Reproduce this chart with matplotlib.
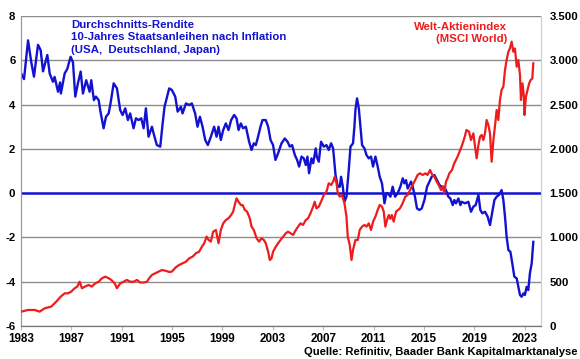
import matplotlib
matplotlib.use("Agg")
import matplotlib.pyplot as plt

plt.rcParams['font.family'] = ['Liberation Sans', 'DejaVu Sans']

# Real yield (left axis, %), average 10y gov bonds after inflation
yield_years = [1983.02, 1983.24, 1983.56, 1983.82, 1984.03, 1984.35, 1984.56, 1984.75, 1985.09, 1985.28,
               1985.54, 1985.67, 1985.94, 1986.10, 1986.17, 1986.47, 1986.67, 1986.94, 1987.13, 1987.31,
               1987.52, 1987.74, 1987.92, 1988.18, 1988.45, 1988.58, 1988.79, 1988.95, 1989.17, 1989.29,
               1989.56, 1989.75, 1989.96, 1990.09, 1990.36, 1990.62, 1990.88, 1991.07, 1991.28, 1991.49,
               1991.67, 1991.94, 1992.13, 1992.34, 1992.55, 1992.74, 1992.92, 1993.13, 1993.40, 1993.53,
               1993.79, 1994.06, 1994.25, 1994.40, 1994.67, 1994.77, 1994.98, 1995.25, 1995.44, 1995.70,
               1995.83, 1996.10, 1996.36, 1996.57, 1996.83, 1997.02, 1997.21, 1997.42, 1997.63, 1997.84,
               1998.08, 1998.34, 1998.53, 1998.69, 1998.87, 1999.06, 1999.27, 1999.48, 1999.69, 1999.93,
               2000.12, 2000.28, 2000.46, 2000.64, 2000.86, 2001.12, 2001.31, 2001.49, 2001.65, 2001.83,
               2002.02, 2002.18, 2002.44, 2002.63, 2002.82, 2003.02, 2003.21, 2003.42, 2003.69, 2003.95,
               2004.17, 2004.35, 2004.53, 2004.75, 2004.93, 2005.09, 2005.28, 2005.46, 2005.62, 2005.75,
               2005.88, 2006.07, 2006.21, 2006.41, 2006.49, 2006.65, 2006.83, 2007.05, 2007.26, 2007.44,
               2007.63, 2007.79, 2007.98, 2008.16, 2008.32, 2008.42, 2008.56, 2008.69, 2008.85, 2009.03,
               2009.17, 2009.37, 2009.48, 2009.56, 2009.69, 2009.83, 2009.96, 2010.09, 2010.28, 2010.44,
               2010.62, 2010.80, 2010.96, 2011.15, 2011.33, 2011.49, 2011.67, 2011.87, 2012.02, 2012.13,
               2012.34, 2012.52, 2012.71, 2012.92, 2013.13, 2013.32, 2013.45, 2013.58, 2013.71, 2013.85,
               2013.98, 2014.11, 2014.29, 2014.45, 2014.64, 2014.83, 2015.04, 2015.25, 2015.44, 2015.62,
               2015.83, 2016.04, 2016.23, 2016.41, 2016.57, 2016.75, 2016.94, 2017.10, 2017.29, 2017.42,
               2017.55, 2017.74, 2017.90, 2018.00, 2018.26, 2018.53, 2018.74, 2018.93, 2019.11, 2019.33,
               2019.48, 2019.64, 2019.85, 2020.06, 2020.25, 2020.44, 2020.60, 2020.78, 2020.96, 2021.17,
               2021.31, 2021.44, 2021.57, 2021.71, 2021.87, 2022.02, 2022.18, 2022.37, 2022.50, 2022.63,
               2022.76, 2022.90, 2023.02, 2023.16, 2023.29, 2023.42, 2023.56, 2023.69]
yield_values = [5.4, 5.15, 6.9, 5.9, 5.26, 6.7, 6.46, 5.5, 6.24, 5.4,
                5.03, 5.25, 4.58, 5.0, 4.5, 5.41, 5.6, 6.16, 5.9, 4.36,
                4.96, 5.49, 4.5, 5.1, 4.58, 5.1, 4.2, 4.36, 4.2, 3.75,
                2.93, 3.45, 3.6, 3.98, 4.96, 4.73, 3.75, 3.53, 3.83, 3.3,
                3.6, 2.93, 3.38, 3.3, 3.38, 2.93, 3.83, 2.55, 3.0, 2.7,
                2.17, 2.1, 3.15, 3.9, 4.5, 4.73, 4.66, 4.36, 3.68, 3.9,
                3.6, 4.05, 3.98, 4.05, 3.6, 3.0, 3.45, 3.0, 2.4, 2.17,
                2.55, 3.0, 2.55, 3.0, 2.4, 2.85, 3.15, 2.85, 3.3, 3.53,
                3.38, 2.85, 3.15, 2.93, 3.0, 2.32, 1.95, 2.25, 2.17, 2.55,
                3.0, 3.3, 3.3, 3.0, 2.4, 2.17, 1.5, 1.8, 2.25, 2.47,
                2.32, 2.1, 2.17, 1.72, 1.5, 1.2, 1.65, 1.57, 1.27, 1.65,
                0.9, 1.57, 1.35, 2.02, 1.65, 1.42, 2.32, 2.1, 2.17, 1.95,
                2.25, 2.02, 0.82, 0.29, 0.29, 0.74, 0.29, -0.39, -0.16, 1.04,
                2.1, 2.25, 3.0, 3.75, 4.28, 3.83, 3.0, 2.17, 2.02, 1.72,
                1.57, 1.65, 1.2, 1.65, 1.2, 0.74, 0.44, -0.46, 0.0, 0.0,
                -0.16, 0.29, -0.16, 0.0, 0.29, 0.67, 0.44, 0.59, 0.21, 0.37,
                0.52, 0.29, -0.16, -0.69, -0.76, -0.69, -0.31, 0.29, 0.52, 0.74,
                0.82, 0.59, 0.37, 0.29, 0.29, 0.14, -0.16, -0.24, -0.54, -0.31,
                -0.46, -0.24, -0.54, -0.39, -0.46, -0.39, -0.84, -0.61, -0.54, -0.08,
                -0.76, -0.91, -0.84, -1.06, -1.44, -0.84, -0.31, -0.16, -0.08, 0.14,
                -0.31, -1.06, -1.97, -2.57, -2.65, -3.17, -3.77, -3.85, -4.23, -4.6,
                -4.68, -4.53, -4.6, -4.23, -4.38, -3.62, -3.17, -2.2]

# MSCI World (right axis, index points)
msci_years = [1983.02, 1983.56, 1984.09, 1984.48, 1984.88, 1985.40, 1985.80, 1986.15, 1986.47, 1986.73,
              1986.99, 1987.26, 1987.47, 1987.66, 1987.84, 1988.08, 1988.37, 1988.63, 1988.90, 1989.17,
              1989.43, 1989.69, 1989.96, 1990.17, 1990.44, 1990.62, 1990.88, 1991.15, 1991.41, 1991.67,
              1991.94, 1992.21, 1992.47, 1992.74, 1993.00, 1993.18, 1993.40, 1993.66, 1993.93, 1994.19,
              1994.45, 1994.77, 1994.98, 1995.30, 1995.56, 1995.83, 1996.10, 1996.36, 1996.63, 1996.89,
              1997.15, 1997.37, 1997.55, 1997.74, 1997.90, 1998.08, 1998.26, 1998.48, 1998.69, 1998.87,
              1999.06, 1999.27, 1999.48, 1999.69, 1999.85, 2000.01, 2000.12, 2000.28, 2000.46, 2000.60,
              2000.78, 2000.96, 2001.17, 2001.31, 2001.49, 2001.71, 2001.91, 2002.10, 2002.29, 2002.44,
              2002.63, 2002.76, 2002.90, 2003.02, 2003.24, 2003.42, 2003.61, 2003.82, 2004.03, 2004.21,
              2004.40, 2004.61, 2004.83, 2005.01, 2005.20, 2005.40, 2005.62, 2005.80, 2005.99, 2006.20,
              2006.33, 2006.47, 2006.65, 2006.83, 2007.05, 2007.26, 2007.44, 2007.63, 2007.79, 2007.92,
              2008.06, 2008.16, 2008.32, 2008.50, 2008.69, 2008.85, 2008.95, 2009.11, 2009.25, 2009.37,
              2009.56, 2009.75, 2009.90, 2010.09, 2010.28, 2010.44, 2010.62, 2010.80, 2010.96, 2011.15,
              2011.33, 2011.49, 2011.67, 2011.81, 2011.94, 2012.07, 2012.21, 2012.33, 2012.45, 2012.60,
              2012.79, 2013.10, 2013.31, 2013.52, 2013.71, 2013.90, 2014.10, 2014.31, 2014.50, 2014.69,
              2014.90, 2015.12, 2015.29, 2015.49, 2015.67, 2015.83, 2016.01, 2016.17, 2016.36, 2016.49,
              2016.62, 2016.75, 2016.88, 2017.02, 2017.23, 2017.41, 2017.67, 2017.94, 2018.12, 2018.25,
              2018.38, 2018.58, 2018.74, 2018.93, 2019.06, 2019.19, 2019.33, 2019.46, 2019.59, 2019.72,
              2019.85, 2019.98, 2020.12, 2020.25, 2020.38, 2020.52, 2020.64, 2020.78, 2020.91, 2021.04,
              2021.17, 2021.31, 2021.44, 2021.57, 2021.71, 2021.83, 2021.97, 2022.10, 2022.23, 2022.37,
              2022.50, 2022.63, 2022.71, 2022.83, 2022.94, 2022.99, 2023.10, 2023.23, 2023.36, 2023.48,
              2023.61, 2023.69]
msci_values = [162, 181, 181, 162, 200, 219, 275, 331, 369, 369,
               388, 426, 445, 500, 426, 445, 463, 445, 482, 500,
               539, 557, 539, 520, 482, 426, 482, 500, 520, 500,
               500, 520, 491, 491, 500, 539, 576, 595, 614, 632,
               625, 610, 614, 663, 689, 708, 726, 764, 783, 821,
               839, 896, 934, 1009, 971, 953, 1065, 1084, 934, 1084,
               1159, 1197, 1216, 1253, 1291, 1385, 1441, 1403, 1366, 1366,
               1310, 1291, 1216, 1122, 1084, 990, 953, 990, 971, 934,
               839, 745, 764, 839, 896, 934, 971, 1009, 1047, 1065,
               1047, 1028, 1084, 1122, 1159, 1141, 1197, 1216, 1272, 1347,
               1403, 1328, 1347, 1403, 1479, 1516, 1611, 1592, 1630, 1686,
               1611, 1497, 1460, 1479, 1385, 1234, 1009, 915, 745, 858,
               971, 971, 1084, 1122, 1141, 1122, 1159, 1084, 1178, 1234,
               1310, 1366, 1347, 1291, 1122, 1197, 1253, 1210, 1253, 1178,
               1291, 1328, 1385, 1460, 1479, 1535, 1592, 1648, 1705, 1724,
               1705, 1724, 1705, 1761, 1705, 1686, 1630, 1592, 1535, 1573,
               1497, 1630, 1667, 1724, 1761, 1836, 1911, 2006, 2080, 2140,
               2213, 2194, 2100, 2175, 2025, 1893, 2044, 2138, 2157, 2100,
               2175, 2326, 2269, 2175, 1855, 2100, 2251, 2439, 2326, 2552,
               2665, 2702, 2890, 3003, 3097, 3134, 3210, 3097, 3134, 2928,
               3003, 2834, 2552, 2740, 2589, 2382, 2589, 2665, 2740, 2777,
               2796, 2966]

left_ticks = [-6, -4, -2, 0, 2, 4, 6, 8]
right_ticks = [0, 500, 1000, 1500, 2000, 2500, 3000, 3500]
right_labels = ["0", "500", "1.000", "1.500", "2.000", "2.500", "3.000", "3.500"]
year_ticks = [1983, 1987, 1991, 1995, 1999, 2003, 2007, 2011, 2015, 2019, 2023]

BLUE = "#1212d0"
RED = "#ee1c1c"
GRID = "#8c8c8c"

fig = plt.figure(figsize=(5.8, 3.59), dpi=100)
ax = fig.add_axes([21/580, 1-326/359, 520/580, 310/359])
ax2 = ax.twinx()

ax.set_xlim(1983, 2024.3)
ax.set_ylim(-6, 8)
ax2.set_ylim(0, 3500)

for t in left_ticks:
    if t != 0:
        ax.axhline(t, color=GRID, lw=1.0, zorder=1)
ax.axhline(0, color=BLUE, lw=1.8, zorder=2)

ax.plot(yield_years, yield_values, color=BLUE, lw=1.7, zorder=3)
ax2.plot(msci_years, msci_values, color=RED, lw=1.6, zorder=3)

ax.set_yticks(left_ticks)
ax.set_yticklabels([str(t) for t in left_ticks], fontweight='bold', fontsize=8.2)
ax2.set_yticks(right_ticks)
ax2.set_yticklabels(right_labels, fontweight='bold', fontsize=8.2)
ax.set_xticks(year_ticks)
ax.set_xticklabels([str(y) for y in year_ticks], fontweight='bold', fontsize=8.4)

ax.tick_params(axis='y', length=0, pad=4)
ax2.tick_params(axis='y', length=0, pad=6)
ax.tick_params(axis='x', length=3, color="#bbbbbb", pad=2)

for a in (ax, ax2):
    a.spines['top'].set_visible(False)
    a.spines['left'].set_color("#999999")
    a.spines['bottom'].set_color("#777777")
    a.spines['right'].set_color("#d0d0d0")

ax.text(1987.0, 7.84, "Durchschnitts-Rendite\n10-Jahres Staatsanleihen nach Inflation\n(USA,  Deutschland, Japan)",
        color=BLUE, fontweight='bold', fontsize=8.2, va='top', ha='left', linespacing=1.32)
ax.text(2021.6, 7.74, "Welt-Aktienindex\n(MSCI World)", color=RED, fontweight='bold',
        fontsize=8.2, va='top', ha='right', linespacing=1.32, multialignment='right')

fig.text(578/580, 1-352/359, "Quelle: Refinitiv, Baader Bank Kapitalmarktanalyse",
         fontweight='bold', fontsize=8.1, ha='right', va='center')

fig.savefig("out.png", dpi=100)
